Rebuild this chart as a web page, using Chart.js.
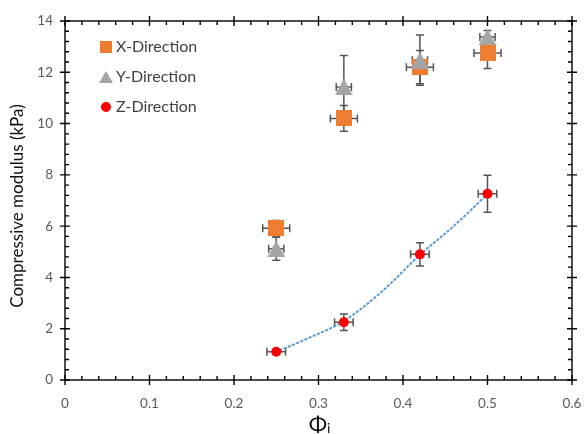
<!DOCTYPE html>
<html>
<head>
<meta charset="utf-8">
<script src="https://cdn.jsdelivr.net/npm/chart.js@4.4.1/dist/chart.umd.min.js"></script>
<style>
  html, body { margin: 0; padding: 0; background: #fff; }
  #wrap { width: 586px; height: 434px; }
</style>
</head>
<body>
<div id="wrap"><canvas id="modulusChart"></canvas></div>
<script>
// volume fraction for every measured sample
const phiValues = [0.25, 0.33, 0.42, 0.5];

// compressive modulus (kPa) and standard deviations per loading direction
const xDirection = [5.92, 10.2, 12.2, 12.75];
const xDirErr    = [0.3, 0.5, 0.65, 0.6];
const xDirPhiErr = [0.016, 0.016, 0.016, 0.016];

const yDirection = [5.12, 11.43, 12.47, 13.38];
const yDirErr    = [0.45, 1.22, 0.98, 0.25];
const yDirPhiErr = [0.009, 0.009, 0.009, 0.009];

const zDirection = [1.1, 2.25, 4.9, 7.26];
const zDirErr    = [0.06, 0.32, 0.45, 0.72];
const zDirPhiErr = [0.011, 0.011, 0.011, 0.011];

// fitted curve through the Z-direction data
const trendPhi = [0.25, 0.29, 0.33, 0.375, 0.42, 0.46, 0.5];
const trendFit = [1.1, 1.66, 2.3, 3.45, 4.88, 6.0, 7.25];

const seriesNames = ['X-Direction', 'Y-Direction', 'Z-Direction'];
const xTickLabels = ['0', '0.1', '0.2', '0.3', '0.4', '0.5', '0.6'];
const yTickLabels = ['0', '2', '4', '6', '8', '10', '12', '14'];

const FONT = 'Lato, "Open Sans", sans-serif';
const ORANGE = '#ED7D31';
const GREY = '#A5A5A5';
const RED = '#FF0000';
const ERR = '#555555';

function toPoints(xs, ys) {
    return xs.map((x, i) => ({ x: x, y: ys[i] }));
}

// marker images, centred on their bounding box like spreadsheet markers
function squareMarker(size, color) {
    const c = document.createElement('canvas');
    c.width = size; c.height = size;
    const g = c.getContext('2d');
    g.fillStyle = color;
    g.fillRect(0, 0, size, size);
    return c;
}
function triangleMarker(w, h, color) {
    const c = document.createElement('canvas');
    c.width = w; c.height = h;
    const g = c.getContext('2d');
    g.fillStyle = color;
    g.beginPath();
    g.moveTo(w / 2, 0);
    g.lineTo(w, h);
    g.lineTo(0, h);
    g.closePath();
    g.fill();
    return c;
}

const squareImg = squareMarker(16, ORANGE);
const triangleImg = triangleMarker(18, 17, GREY);

// error bars in both directions, drawn under the markers
const errorBarPlugin = {
    id: 'errorBars',
    beforeDatasetsDraw(chart) {
        const { ctx, scales: { x, y } } = chart;
        const cap = 4;
        ctx.save();
        ctx.strokeStyle = ERR;
        ctx.lineWidth = 1.5;
        chart.data.datasets.forEach(ds => {
            if (!ds.errY) return;
            ds.data.forEach((p, i) => {
                const px = x.getPixelForValue(p.x);
                const py = y.getPixelForValue(p.y);
                const top = y.getPixelForValue(p.y + ds.errY[i]);
                const bot = y.getPixelForValue(p.y - ds.errY[i]);
                const lft = x.getPixelForValue(p.x - ds.errX[i]);
                const rgt = x.getPixelForValue(p.x + ds.errX[i]);
                ctx.beginPath();
                ctx.moveTo(px, top); ctx.lineTo(px, bot);
                ctx.moveTo(px - cap, top); ctx.lineTo(px + cap, top);
                ctx.moveTo(px - cap, bot); ctx.lineTo(px + cap, bot);
                ctx.moveTo(lft, py); ctx.lineTo(rgt, py);
                ctx.moveTo(lft, py - cap); ctx.lineTo(lft, py + cap);
                ctx.moveTo(rgt, py - cap); ctx.lineTo(rgt, py + cap);
                ctx.stroke();
            });
        });
        ctx.restore();
    }
};

// boxed frame with mirrored major/minor tick marks, axis titles and legend
const framePlugin = {
    id: 'frame',
    afterDraw(chart) {
        const { ctx, chartArea: a, scales: { x, y } } = chart;
        ctx.save();
        ctx.strokeStyle = '#000';
        ctx.lineWidth = 1.4;
        ctx.strokeRect(a.left, a.top, a.right - a.left, a.bottom - a.top);

        ctx.beginPath();
        for (let i = 0; i <= 30; i++) {
            const px = x.getPixelForValue(i * 0.02);
            if (i % 5 === 0) {
                ctx.moveTo(px, a.bottom - 5); ctx.lineTo(px, a.bottom + 5);
                ctx.moveTo(px, a.top - 5); ctx.lineTo(px, a.top + 5);
            } else {
                ctx.moveTo(px, a.bottom); ctx.lineTo(px, a.bottom - 4);
                ctx.moveTo(px, a.top); ctx.lineTo(px, a.top + 4);
            }
        }
        for (let i = 0; i <= 35; i++) {
            const py = y.getPixelForValue(i * 0.4);
            if (i % 5 === 0) {
                ctx.moveTo(a.left - 5, py); ctx.lineTo(a.left + 5, py);
                ctx.moveTo(a.right - 5, py); ctx.lineTo(a.right + 5, py);
            } else {
                ctx.moveTo(a.left, py); ctx.lineTo(a.left + 4, py);
                ctx.moveTo(a.right, py); ctx.lineTo(a.right - 4, py);
            }
        }
        ctx.stroke();

        // y axis title
        ctx.fillStyle = '#111';
        ctx.font = '17px ' + FONT;
        ctx.textAlign = 'center';
        ctx.textBaseline = 'middle';
        ctx.save();
        ctx.translate(18, 206);
        ctx.rotate(-Math.PI / 2);
        ctx.fillText('Compressive modulus (kPa)', 0, 0);
        ctx.restore();

        // x axis title: Phi with subscript i
        ctx.textAlign = 'left';
        ctx.textBaseline = 'alphabetic';
        ctx.font = '22px ' + FONT;
        const phiW = ctx.measureText('Φ').width;
        ctx.font = '14px ' + FONT;
        const subW = ctx.measureText('i').width;
        const startX = (a.left + a.right) / 2 - (phiW + subW) / 2 + 1;
        ctx.font = '22px ' + FONT;
        ctx.fillText('Φ', startX, 432);
        ctx.font = '14px ' + FONT;
        ctx.fillText('i', startX + phiW, 433);

        // legend
        const rows = [
            { img: squareImg, w: 12, h: 12 },
            { img: triangleMarker(14, 12, GREY), w: 14, h: 12 },
            { circle: true }
        ];
        ctx.font = '16px ' + FONT;
        ctx.textBaseline = 'middle';
        rows.forEach((r, i) => {
            const cy = 47 + i * 30;
            const cx = 106;
            if (r.circle) {
                ctx.beginPath();
                ctx.fillStyle = RED;
                ctx.arc(cx, cy, 5, 0, Math.PI * 2);
                ctx.fill();
            } else {
                ctx.drawImage(r.img, cx - r.w / 2, cy - r.h / 2, r.w, r.h);
            }
            ctx.fillStyle = '#404040';
            ctx.fillText(seriesNames[i], 116, cy);
        });
        ctx.restore();
    }
};

new Chart(document.getElementById('modulusChart'), {
    type: 'scatter',
    data: {
        datasets: [
            {
                label: seriesNames[2],
                data: toPoints(phiValues, zDirection),
                errY: zDirErr, errX: zDirPhiErr,
                pointStyle: 'circle',
                pointRadius: 5,
                pointHoverRadius: 5,
                backgroundColor: RED,
                borderColor: RED,
                borderWidth: 0,
                order: 0
            },
            {
                label: seriesNames[1],
                data: toPoints(phiValues, yDirection),
                errY: yDirErr, errX: yDirPhiErr,
                pointStyle: triangleImg,
                pointRadius: 9,
                order: 1
            },
            {
                label: seriesNames[0],
                data: toPoints(phiValues, xDirection),
                errY: xDirErr, errX: xDirPhiErr,
                pointStyle: squareImg,
                pointRadius: 8,
                order: 2
            },
            {
                type: 'line',
                label: 'fit',
                data: toPoints(trendPhi, trendFit),
                borderColor: '#5B9BD5',
                borderWidth: 2,
                borderDash: [1.5, 3],
                borderCapStyle: 'round',
                pointRadius: 0,
                fill: false,
                cubicInterpolationMode: 'monotone',
                order: 3
            }
        ]
    },
    options: {
        responsive: true,
        maintainAspectRatio: false,
        animation: false,
        events: [],
        layout: { padding: { top: 21, right: 14, left: 0, bottom: 0 } },
        plugins: {
            legend: { display: false },
            tooltip: { enabled: false }
        },
        scales: {
            x: {
                type: 'linear',
                min: 0, max: 0.6,
                grid: { display: false, drawTicks: false },
                border: { display: false },
                ticks: {
                    stepSize: 0.1,
                    padding: 16,
                    color: '#595959',
                    font: { family: FONT, size: 13.5 },
                    callback: (v, i) => xTickLabels[i]
                },
                afterFit(scale) {
                    scale.height = 54;
                    scale.paddingLeft = 0;
                    scale.paddingRight = 0;
                }
            },
            y: {
                type: 'linear',
                min: 0, max: 14,
                grid: { display: false, drawTicks: false },
                border: { display: false },
                ticks: {
                    stepSize: 2,
                    padding: 12,
                    color: '#595959',
                    font: { family: FONT, size: 13.5 },
                    callback: (v, i) => yTickLabels[i]
                },
                afterFit(scale) {
                    scale.width = 65;
                    scale.paddingTop = 0;
                    scale.paddingBottom = 0;
                }
            }
        }
    },
    plugins: [errorBarPlugin, framePlugin]
});
</script>
</body>
</html>
